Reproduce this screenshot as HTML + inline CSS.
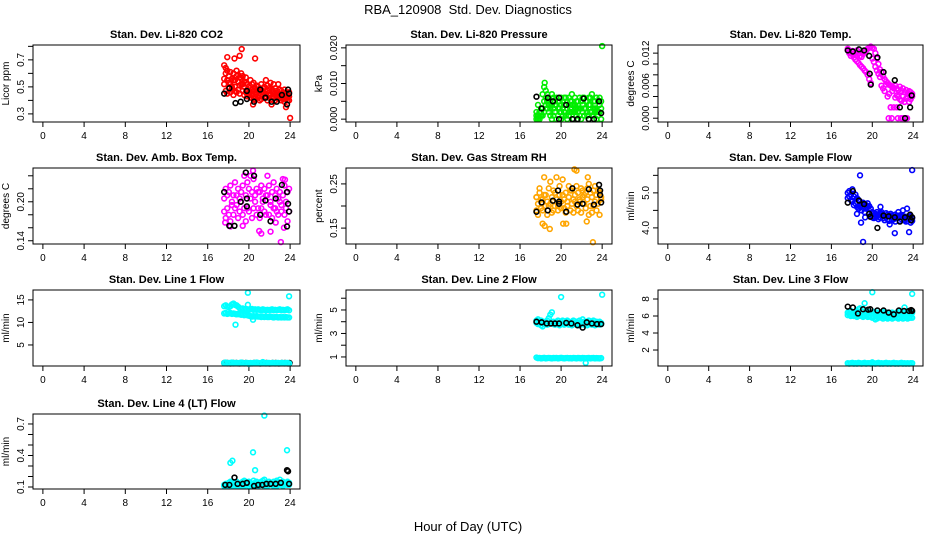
<!DOCTYPE html>
<html><head><meta charset="utf-8"><style>
html,body{margin:0;padding:0;background:#fff;}
svg{display:block;font-family:"Liberation Sans",Arial,sans-serif;}
</style></head><body>
<svg id="chart" width="936" height="540" viewBox="0 0 936 540" xmlns="http://www.w3.org/2000/svg">
<text x="468" y="14" text-anchor="middle" font-size="13">RBA_120908&#160; Std. Dev. Diagnostics</text>
<text x="468" y="531" text-anchor="middle" font-size="13">Hour of Day (UTC)</text>
</svg>
<script>
// shared x (hour of day) for coloured series
const XC=[17.6,17.75,17.9,18.05,18.2,18.35,18.5,18.65,18.8,18.95,19.1,19.25,19.4,19.55,19.7,19.85,20.0,20.15,20.3,20.45,20.6,20.75,20.9,21.05,21.2,21.35,21.5,21.65,21.8,21.95,22.1,22.25,22.4,22.55,22.7,22.85,23.0,23.15,23.3,23.45,23.6,23.75,23.9];
const xTicks=[0,4,8,12,16,20,24];

// Panel 1: CO2
const co2A=[0.66,0.60,0.55,0.58,0.52,0.56,0.60,0.55,0.58,0.54,0.57,0.56,0.52,0.50,0.53,0.48,0.50,0.46,0.52,0.47,0.49,0.45,0.50,0.47,0.48,0.46,0.50,0.45,0.47,0.49,0.44,0.48,0.46,0.45,0.47,0.44,0.48,0.43,0.46,0.44,0.45,0.42,0.46];
const co2B=[0.52,0.47,0.45,0.50,0.46,0.48,0.44,0.50,0.46,0.48,0.45,0.52,0.47,0.44,0.46,0.43,0.45,0.42,0.44,0.41,0.43,0.46,0.42,0.44,0.41,0.44,0.42,0.43,0.40,0.42,0.45,0.41,0.43,0.40,0.42,0.41,0.43,0.40,0.41,0.39,0.42,0.40,0.43];
const co2C=[0.56,0.64,0.62,0.53,0.61,0.50,0.55,0.47,0.62,0.59,0.51,0.60,0.58,0.54,0.57,0.52,0.44,0.55,0.48,0.53,0.41,0.51,0.47,0.40,0.52,0.49,0.45,0.55,0.51,0.44,0.53,0.46,0.52,0.49,0.43,0.52,0.45,0.47,0.42,0.48,0.41,0.44,0.40];
const co2OutX=[17.9,18.6,19.1,19.3,20.6,20.4,22.2,23.6,24.0];
const co2OutY=[0.72,0.71,0.73,0.78,0.71,0.37,0.37,0.35,0.27];
const co2BlkX=[17.6,18.1,18.7,19.2,19.8,19.8,20.5,21.1,21.6,22.2,22.7,23.2,23.7,23.8,23.9];
const co2BlkY=[0.45,0.49,0.38,0.39,0.41,0.47,0.39,0.48,0.42,0.39,0.39,0.44,0.37,0.48,0.45];

// Panel 2: pressure
const prA=[0.002,0.004,0.001,0.003,0.007,0.009,0.008,0.007,0.006,0.005,0.007,0.006,0.004,0.006,0.005,0.003,0.006,0.005,0.006,0.004,0.005,0.006,0.005,0.007,0.004,0.006,0.005,0.003,0.006,0.005,0.004,0.006,0.003,0.005,0.006,0.004,0.007,0.005,0.003,0.006,0.005,0.004,0.005];
const prB=[0.000,0.001,0.000,0.002,0.003,0.005,0.004,0.003,0.002,0.001,0.000,0.003,0.002,0.000,0.001,0.002,0.000,0.003,0.002,0.001,0.000,0.002,0.003,0.002,0.000,0.002,0.001,0.002,0.003,0.000,0.002,0.001,0.003,0.002,0.000,0.002,0.001,0.003,0.002,0.000,0.001,0.002,0.000];
const prC=[0.001,0.000,0.002,0.001,0.001,0.002,0.006,0.005,0.004,0.003,0.004,0.001,0.005,0.004,0.003,0.005,0.002,0.001,0.004,0.006,0.003,0.001,0.002,0.004,0.002,0.004,0.003,0.005,0.001,0.003,0.006,0.003,0.005,0.001,0.004,0.006,0.002,0.001,0.005,0.003,0.002,0.006,0.003];
const prOutX=[24.0,18.4];
const prOutY=[0.0205,0.0102];
const prBlkX=[17.6,18.1,18.7,19.2,19.8,19.8,20.5,21.1,21.6,22.2,22.7,23.2,23.7,23.9];
const prBlkY=[0.0063,0.0030,0.0060,0.0050,0.0060,0.0000,0.0040,0.0000,0.0000,0.0058,0.0000,0.0000,0.0050,0.0017];

// Panel 3: Li-820 temp
const ltA=[0.0125,0.0123,0.0120,0.0124,0.0118,0.0122,0.0125,0.0120,0.0115,0.0113,0.0118,0.0122,0.0125,0.0128,0.0130,0.0132,0.0130,0.0128,0.0120,0.0110,0.0100,0.0090,0.0085,0.0078,0.0072,0.0068,0.0065,0.0062,0.0060,0.0058,0.0056,0.0060,0.0055,0.0052,0.0058,0.0050,0.0055,0.0048,0.0052,0.0046,0.0050,0.0048,0.0045];
const ltB=[0.0128,0.0120,0.0115,0.0118,0.0112,0.0108,0.0105,0.0102,0.0098,0.0095,0.0092,0.0088,0.0085,0.0080,0.0072,0.0065,0.0110,0.0104,0.0095,0.0088,0.0082,0.0076,0.0060,0.0055,0.0050,0.0062,0.0040,0.0045,0.0020,0.0050,0.0055,0.0038,0.0042,0.0040,0.0035,0.0032,0.0040,0.0030,0.0036,0.0040,0.0030,0.0035,0.0040];
const ltOutX=[21.6,21.9,22.5,22.8,23.0,23.3,23.4,21.8,22.1,22.4];
const ltOutY=[0,0,0,0,0,0,0,0.002,0.002,0.002];
const ltBlkX=[17.6,18.1,18.7,19.2,19.7,19.75,19.85,20.5,21.1,22.2,22.7,23.2,23.7,23.85];
const ltBlkY=[0.0125,0.0123,0.0127,0.0125,0.0115,0.0082,0.0062,0.0112,0.0085,0.0070,0.002,0,0.002,0.0042];

// Panel 4: amb box temp
const abA=[0.205,0.22,0.19,0.215,0.225,0.20,0.21,0.23,0.195,0.22,0.205,0.215,0.225,0.19,0.21,0.23,0.22,0.205,0.215,0.235,0.20,0.22,0.19,0.215,0.225,0.205,0.22,0.18,0.21,0.225,0.20,0.215,0.23,0.19,0.22,0.205,0.215,0.195,0.21,0.225,0.20,0.215,0.22];
const abB=[0.185,0.175,0.21,0.18,0.17,0.195,0.18,0.19,0.21,0.175,0.185,0.20,0.18,0.24,0.17,0.19,0.185,0.24,0.175,0.19,0.21,0.18,0.215,0.175,0.19,0.20,0.185,0.21,0.24,0.18,0.195,0.175,0.19,0.21,0.185,0.18,0.2,0.185,0.235,0.18,0.19,0.17,0.185];
const abOutX=[18.2,19.4,20.4,21.0,21.2,22.1,22.6,23.1,23.4,23.5,17.7];
const abOutY=[0.162,0.163,0.248,0.155,0.151,0.154,0.168,0.138,0.16,0.234,0.168];
const abBlkX=[17.6,18.1,18.6,19.2,19.7,19.8,19.8,20.5,21.1,21.6,22.1,22.6,23.2,23.7,23.8,23.9,23.7];
const abBlkY=[0.215,0.163,0.163,0.20,0.245,0.193,0.205,0.24,0.18,0.202,0.17,0.205,0.226,0.215,0.197,0.185,0.162];

// Panel 5: gas stream RH
const rhA=[0.22,0.205,0.23,0.195,0.215,0.225,0.20,0.21,0.24,0.205,0.22,0.19,0.23,0.215,0.20,0.245,0.21,0.225,0.195,0.23,0.21,0.22,0.235,0.205,0.215,0.225,0.20,0.23,0.21,0.24,0.22,0.205,0.23,0.215,0.25,0.20,0.22,0.235,0.21,0.225,0.205,0.23,0.215];
const rhB=[0.19,0.18,0.24,0.215,0.19,0.265,0.225,0.18,0.20,0.255,0.185,0.235,0.20,0.265,0.19,0.225,0.195,0.26,0.215,0.185,0.20,0.245,0.19,0.235,0.185,0.21,0.245,0.19,0.215,0.185,0.235,0.225,0.195,0.24,0.18,0.23,0.185,0.20,0.245,0.19,0.235,0.18,0.22];
const rhOutX=[18.2,18.4,18.9,20.2,20.5,21.3,21.5,22.5,22.6,23.1,17.6];
const rhOutY=[0.16,0.155,0.148,0.16,0.16,0.283,0.28,0.165,0.265,0.118,0.22];
const rhBlkX=[17.6,18.1,18.7,19.2,19.7,19.8,19.8,20.5,21.1,21.6,22.1,22.7,23.2,23.7,23.8,23.8,23.9];
const rhBlkY=[0.187,0.208,0.19,0.212,0.235,0.21,0.205,0.187,0.24,0.203,0.205,0.238,0.203,0.248,0.235,0.225,0.208];

// Panel 6: sample flow
const sfA=[5.0,5.05,4.95,5.1,4.9,4.95,4.85,4.8,4.75,4.7,4.72,4.68,4.65,4.7,4.62,4.55,4.45,4.42,4.4,4.45,4.38,4.42,4.4,4.38,4.35,4.42,4.38,4.35,4.4,4.32,4.36,4.38,4.34,4.3,4.36,4.32,4.34,4.3,4.32,4.28,4.3,4.34,4.28];
const sfB=[4.85,4.9,4.8,4.75,4.65,4.7,4.6,4.55,4.6,4.5,4.58,4.45,4.55,4.6,4.4,4.35,4.3,4.28,4.3,4.32,4.25,4.3,4.45,4.28,4.22,4.3,4.25,4.2,4.35,4.22,4.25,4.18,4.28,4.45,4.2,4.25,4.5,4.22,4.18,4.2,4.25,4.15,4.2];
const sfOutX=[18.8,19.1,18.9,19.3,20.8,21.7,22.2,23.6,23.9,23.4,18.5];
const sfOutY=[5.5,3.6,4.15,4.3,4.6,4.1,3.85,3.88,5.65,4.55,4.4];
const sfBlkX=[17.6,18.1,18.7,19.2,19.7,19.8,20.5,21.1,21.6,22.2,22.7,23.2,23.7,23.8,23.9];
const sfBlkY=[4.72,5.05,4.78,4.68,4.40,4.32,4.0,4.35,4.33,4.3,4.18,4.3,4.38,4.22,4.3];

// Panel 7: line 1 flow
const l1A=[13.6,13.8,13.5,13.4,13.6,14.0,14.2,13.9,13.8,13.5,13.2,13.0,13.1,12.9,13.0,12.9,12.8,12.9,13.0,12.8,12.9,12.8,12.9,12.8,12.7,12.9,12.8,12.7,12.8,12.7,12.8,12.9,12.7,12.8,12.7,12.8,12.9,12.7,12.8,12.7,12.8,12.9,12.7];
const l1B=[12.0,12.1,11.9,12.0,12.1,11.9,12.0,11.9,11.8,11.9,11.8,11.7,11.8,11.6,11.7,11.6,11.5,11.4,11.3,11.4,11.3,11.4,11.3,11.3,11.2,11.3,11.2,11.3,11.2,11.2,11.3,11.2,11.1,11.2,11.2,11.1,11.2,11.1,11.2,11.1,11.2,11.1,11.1];
const l1C=[1.0,1.1,0.9,1.0,1.0,1.1,0.9,1.0,1.0,0.9,1.0,1.1,1.0,0.9,1.0,1.0,0.8,1.0,0.9,1.0,1.0,1.1,1.0,0.9,1.0,1.2,1.0,0.9,1.0,1.0,0.9,1.0,1.0,0.9,1.0,1.0,0.9,1.0,1.0,0.9,1.0,1.0,0.9];
const l1OutX=[18.7,19.9,20.4,23.9,19.9];
const l1OutY=[9.5,16.6,10.6,15.8,13.9];
const l1BlkX=[17.6,17.9,18.2,18.5,18.8,19.1,19.4,19.7,20.0,20.5,20.8,21.1,21.4,21.7,22.0,22.3,22.6,22.9,23.2,23.5,23.8,23.95];
const l1BlkY=[1.0,1.0,0.9,1.0,1.0,0.9,1.0,1.0,0.9,1.0,1.0,0.9,1.0,1.0,0.9,1.0,1.0,0.9,1.0,1.0,0.9,1.0];

// Panel 8: line 2 flow
const l2A=[4.1,4.2,4.0,4.1,4.0,3.9,4.0,4.1,4.3,4.6,4.8,4.0,3.9,4.0,4.1,3.9,4.0,4.1,3.9,4.0,4.1,4.0,3.9,4.0,4.1,3.9,4.0,3.9,4.1,4.0,4.2,4.0,3.9,4.0,4.1,3.9,4.0,4.1,3.9,4.0,3.9,4.0,3.9];
const l2B=[3.9,3.8,3.85,3.7,3.6,3.8,3.85,3.75,3.8,3.9,3.85,3.8,3.75,3.85,3.8,3.7,3.85,3.8,3.75,3.8,3.85,3.75,3.8,3.7,3.8,3.85,3.75,3.8,3.7,3.85,3.8,3.75,3.8,3.7,3.85,3.8,3.75,3.8,3.7,3.85,3.8,3.75,3.8];
const l2C=[0.95,0.9,0.92,0.88,0.9,0.93,0.88,0.9,0.92,0.9,0.88,0.91,0.9,0.92,0.88,0.9,0.93,0.9,0.88,0.9,0.92,0.89,0.9,0.88,0.92,0.9,0.88,0.91,0.9,0.88,0.92,0.9,0.88,0.9,0.92,0.88,0.9,0.91,0.88,0.9,0.89,0.88,0.9];
const l2OutX=[20.0,24.0,22.4];
const l2OutY=[6.1,6.3,0.5];
const l2BlkX=[17.6,18.1,18.6,19.0,19.4,19.8,20.5,21.0,21.6,22.1,22.5,23.0,23.5,23.9];
const l2BlkY=[4.0,3.95,3.85,3.85,3.85,3.85,3.9,3.85,3.7,3.5,3.95,3.85,3.8,3.8];

// Panel 9: line 3 flow
const l3A=[6.4,6.5,6.6,6.3,6.4,6.5,6.6,6.8,6.9,6.6,6.5,7.5,6.6,6.5,6.4,6.3,6.4,6.5,6.3,6.4,6.2,6.4,6.3,6.5,6.4,6.3,6.4,6.2,6.3,6.4,6.3,6.2,6.4,6.3,6.5,6.3,6.4,7.0,6.3,6.4,6.2,6.3,6.4];
const l3B=[6.1,6.2,6.0,6.1,6.0,6.1,5.9,6.0,6.1,6.0,5.9,6.0,6.1,5.9,6.0,5.9,5.8,5.9,5.6,5.7,5.8,5.9,5.8,5.7,5.9,5.8,5.7,5.8,5.9,5.7,5.8,5.9,5.8,5.7,5.8,5.9,5.7,5.8,5.9,5.7,5.8,5.8,5.8];
const l3C=[0.45,0.4,0.45,0.5,0.4,0.45,0.4,0.5,0.45,0.4,0.45,0.5,0.4,0.45,0.45,0.4,0.55,0.45,0.4,0.45,0.5,0.4,0.45,0.4,0.45,0.5,0.4,0.45,0.4,0.45,0.5,0.4,0.45,0.4,0.45,0.5,0.4,0.45,0.4,0.45,0.4,0.45,0.45];
const l3OutX=[20.0,23.9];
const l3OutY=[8.8,8.6];
const l3BlkX=[17.6,18.1,18.6,19.1,19.6,19.8,20.5,21.1,21.6,22.1,22.6,23.1,23.6,23.8,23.9];
const l3BlkY=[7.1,7.0,6.3,6.8,6.75,6.8,6.65,6.65,6.4,6.2,6.65,6.6,6.6,6.7,6.6];

// Panel 10: line 4 flow
const l4A=[0.12,0.13,0.12,0.14,0.15,0.14,0.13,0.14,0.15,0.13,0.12,0.14,0.15,0.16,0.14,0.13,0.15,0.14,0.13,0.16,0.14,0.15,0.13,0.14,0.15,0.16,0.17,0.14,0.13,0.15,0.14,0.13,0.15,0.14,0.16,0.15,0.17,0.14,0.15,0.13,0.14,0.15,0.14];
const l4B=[0.11,0.11,0.12,0.11,0.12,0.11,0.12,0.11,0.12,0.11,0.12,0.11,0.12,0.11,0.12,0.13,0.11,0.12,0.11,0.12,0.11,0.12,0.11,0.12,0.13,0.12,0.11,0.12,0.11,0.12,0.13,0.12,0.11,0.12,0.11,0.12,0.13,0.12,0.11,0.12,0.13,0.12,0.12];
const l4OutX=[18.2,18.4,20.4,20.6,21.5,23.7];
const l4OutY=[0.33,0.35,0.43,0.26,0.78,0.45];
const l4BlkX=[17.7,18.1,18.6,18.9,19.4,19.8,20.5,20.9,21.3,21.7,22.1,22.6,23.1,23.7,23.8,23.9];
const l4BlkY=[0.12,0.12,0.19,0.13,0.13,0.14,0.11,0.12,0.12,0.13,0.13,0.13,0.14,0.26,0.25,0.13];

// tick values / labels
const p1Ticks=[0.3,0.4,0.5,0.6,0.7,0.8], p1Labels=["0.3","","0.5","","0.7",""];
const p2Ticks=[0,0.005,0.01,0.015,0.02], p2Labels=["0.000","","0.010","","0.020"];
const p3Ticks=[0,0.002,0.004,0.006,0.008,0.010,0.012], p3Labels=["0.000","","","0.006","","","0.012"];
const p4Ticks=[0.14,0.16,0.18,0.20,0.22,0.24], p4Labels=["0.14","","","0.20","",""];
const p5Ticks=[0.15,0.20,0.25], p5Labels=["0.15","","0.25"];
const p6Ticks=[4.0,4.5,5.0,5.5], p6Labels=["4.0","","5.0",""];
const p7Ticks=[5,10,15], p7Labels=["5","10","15"];
const p8Ticks=[1,2,3,4,5,6], p8Labels=["1","","3","","5",""];
const p9Ticks=[2,4,6,8], p9Labels=["2","4","6","8"];
const p10Ticks=[0.1,0.2,0.3,0.4,0.5,0.6,0.7], p10Labels=["0.1","","","0.4","","","0.7"];

const NS="http://www.w3.org/2000/svg";
const svg=document.getElementById('chart');
function mk(tag,attrs,parent){const e=document.createElementNS(NS,tag);for(const k in attrs)e.setAttribute(k,attrs[k]);(parent||svg).appendChild(e);return e;}

const colL=[33,346,658], colR=[300,612,923];
const rowT=[45,168,290,414], rowB=[122,244,366,489];

const panels=[
 {title:"Stan. Dev. Li-820 CO2",ylab:"Licor ppm",c:0,r:0,ymin:0.24,ymax:0.81,ticks:p1Ticks,labels:p1Labels,col:"#ff0000",series:[co2A,co2B,co2C],ox:co2OutX,oy:co2OutY,bx:co2BlkX,by:co2BlkY},
 {title:"Stan. Dev. Li-820 Pressure",ylab:"kPa",c:1,r:0,ymin:-0.0008,ymax:0.0208,ticks:p2Ticks,labels:p2Labels,col:"#00ee00",series:[prA,prB,prC],ox:prOutX,oy:prOutY,bx:prBlkX,by:prBlkY},
 {title:"Stan. Dev. Li-820 Temp.",ylab:"degrees C",c:2,r:0,ymin:-0.0007,ymax:0.0135,ticks:p3Ticks,labels:p3Labels,col:"#ff00ff",series:[ltA,ltB],ox:ltOutX,oy:ltOutY,bx:ltBlkX,by:ltBlkY},
 {title:"Stan. Dev. Amb. Box Temp.",ylab:"degrees C",c:0,r:1,ymin:0.135,ymax:0.252,ticks:p4Ticks,labels:p4Labels,col:"#ff00ff",series:[abA,abB],ox:abOutX,oy:abOutY,bx:abBlkX,by:abBlkY},
 {title:"Stan. Dev. Gas Stream RH",ylab:"percent",c:1,r:1,ymin:0.114,ymax:0.286,ticks:p5Ticks,labels:p5Labels,col:"#ffa500",series:[rhA,rhB],ox:rhOutX,oy:rhOutY,bx:rhBlkX,by:rhBlkY},
 {title:"Stan. Dev. Sample Flow",ylab:"ml/min",c:2,r:1,ymin:3.54,ymax:5.71,ticks:p6Ticks,labels:p6Labels,col:"#0000ff",series:[sfA,sfB],ox:sfOutX,oy:sfOutY,bx:sfBlkX,by:sfBlkY},
 {title:"Stan. Dev. Line 1 Flow",ylab:"ml/min",c:0,r:2,ymin:0.33,ymax:17.2,ticks:p7Ticks,labels:p7Labels,col:"#00ffff",series:[l1A,l1B,l1C],ox:l1OutX,oy:l1OutY,bx:l1BlkX,by:l1BlkY,blackFirst:true},
 {title:"Stan. Dev. Line 2 Flow",ylab:"ml/min",c:1,r:2,ymin:0.23,ymax:6.7,ticks:p8Ticks,labels:p8Labels,col:"#00ffff",series:[l2A,l2B,l2C],ox:l2OutX,oy:l2OutY,bx:l2BlkX,by:l2BlkY},
 {title:"Stan. Dev. Line 3 Flow",ylab:"ml/min",c:2,r:2,ymin:0.12,ymax:9.06,ticks:p9Ticks,labels:p9Labels,col:"#00ffff",series:[l3A,l3B,l3C],ox:l3OutX,oy:l3OutY,bx:l3BlkX,by:l3BlkY},
 {title:"Stan. Dev. Line 4 (LT) Flow",ylab:"ml/min",c:0,r:3,ymin:0.081,ymax:0.795,ticks:p10Ticks,labels:p10Labels,col:"#00ffff",series:[l4A,l4B],ox:l4OutX,oy:l4OutY,bx:l4BlkX,by:l4BlkY}
];

panels.forEach((p,i)=>{
 const L=colL[p.c],R=colR[p.c],T=rowT[p.r],B=rowB[p.r];
 const g=mk('g',{});
 
 
 const sx=v=>L+(v+0.96)/25.92*(R-L);
 const sy=v=>B-(v-p.ymin)/(p.ymax-p.ymin)*(B-T);
 const t=mk('text',{x:(L+R)/2,y:T-7,'text-anchor':'middle','font-size':11,'font-weight':'bold'},g);
 t.textContent=p.title;
 
 
 xTicks.forEach(v=>{
  const x=sx(v);
  const tk=mk('line',{x1:x,x2:x,y1:B,y2:B+5,stroke:'#000','stroke-width':1},g);
  
  
  const tl=mk('text',{x:x,y:B+17,'text-anchor':'middle','font-size':10},g);
  tl.textContent=String(v);
  
  
 });
 p.ticks.forEach((v,j)=>{
  const y=sy(v);
  const tk=mk('line',{x1:L-5,x2:L,y1:y,y2:y,stroke:'#000','stroke-width':1},g);
  
  
  if(p.labels[j]){
   const tl=mk('text',{x:L-9,y:y,'text-anchor':'middle','font-size':10,transform:'rotate(-90 '+(L-9)+' '+y+')'},g);
   tl.textContent=p.labels[j];
   
   
  }
 });
 const yt=mk('text',{x:L-24,y:(T+B)/2,'text-anchor':'middle','font-size':10,transform:'rotate(-90 '+(L-24)+' '+((T+B)/2)+')'},g);
 yt.textContent=p.ylab;
 
 
 const clip=mk('g',{},g);
 function dot(x,y,color,name){
  const c=mk('circle',{cx:sx(x),cy:sy(y),r:2.4,fill:'none',stroke:color,'stroke-width':1.6},clip);
  
  
 }
 function drawBlack(){p.bx.forEach((x,k)=>dot(x,p.by[k],'#000','black-point'));}
 if(p.blackFirst) drawBlack();
 p.series.forEach(s=>s.forEach((v,k)=>dot(XC[k],v,p.col,'data-point')));
 p.ox.forEach((x,k)=>dot(x,p.oy[k],p.col,'outlier-point'));
 if(!p.blackFirst) drawBlack();
 const box=mk('rect',{x:L,y:T,width:R-L,height:B-T,fill:'none',stroke:'#000','stroke-width':1},g);
 
 
});
</script>
</body></html>
